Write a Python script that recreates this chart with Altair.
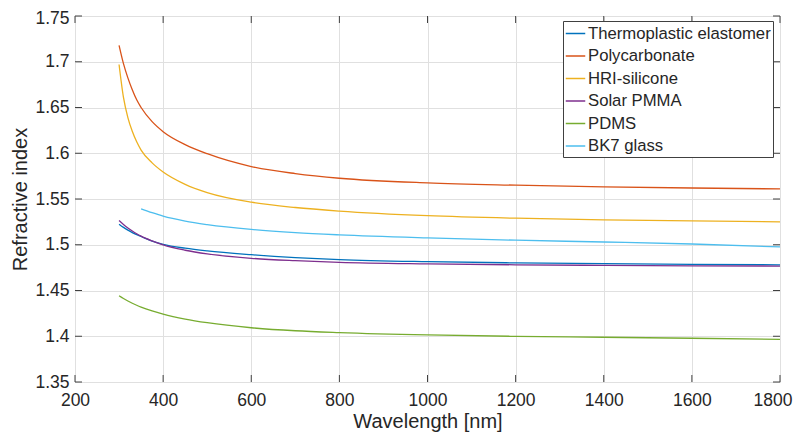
import altair as alt
import pandas as pd

names = ["Thermoplastic elastomer", "Polycarbonate", "HRI-silicone", "Solar PMMA", "PDMS", "BK7 glass"]
colors = ["#0072BD", "#D95319", "#EDB120", "#7E2F8E", "#77AC30", "#4DBEEE"]

wl = [300, 310, 320, 330, 340, 350, 375, 400, 450, 500, 600, 700, 800, 1000, 1200, 1400, 1600, 1800]
wl_bk7 = [350, 375, 400, 450, 500, 600, 700, 800, 1000, 1200, 1400, 1600, 1800]

n_tpe = [1.5225, 1.5190, 1.5160, 1.5133, 1.5110, 1.5090, 1.5040, 1.5005, 1.4962, 1.4932, 1.4891, 1.4860, 1.4838, 1.4815, 1.4802, 1.4793, 1.4786, 1.4781]
n_pc = [1.7180, 1.6980, 1.6824, 1.6694, 1.6584, 1.6500, 1.6345, 1.6236, 1.6095, 1.5995, 1.5855, 1.5778, 1.5727, 1.5676, 1.5651, 1.5633, 1.5620, 1.5610]
n_hri = [1.6970, 1.6610, 1.6390, 1.6240, 1.6125, 1.6035, 1.5895, 1.5795, 1.5660, 1.5570, 1.5465, 1.5407, 1.5368, 1.5318, 1.5290, 1.5272, 1.5260, 1.5251]
n_pmma = [1.5265, 1.5222, 1.5184, 1.5150, 1.5120, 1.5094, 1.5042, 1.4998, 1.4940, 1.4900, 1.4852, 1.4826, 1.4808, 1.4791, 1.4781, 1.4775, 1.4770, 1.4767]
n_pdms = [1.4442, 1.4412, 1.4385, 1.4361, 1.4339, 1.4319, 1.4277, 1.4242, 1.4188, 1.4148, 1.4093, 1.4060, 1.4040, 1.4014, 1.3999, 1.3989, 1.3978, 1.3966]
n_bk7 = [1.5392, 1.5350, 1.5312, 1.5258, 1.5220, 1.5167, 1.5132, 1.5108, 1.5075, 1.5050, 1.5030, 1.5008, 1.4977]

x_ticks = [200, 400, 600, 800, 1000, 1200, 1400, 1600, 1800]
y_ticks = [1.35, 1.4, 1.45, 1.5, 1.55, 1.6, 1.65, 1.7, 1.75]

rows = []
for name, xs, ys in [
    (names[0], wl, n_tpe), (names[1], wl, n_pc), (names[2], wl, n_hri),
    (names[3], wl, n_pmma), (names[4], wl, n_pdms), (names[5], wl_bk7, n_bk7)]:
    for i, (a, b) in enumerate(zip(xs, ys)):
        rows.append({"series": name, "wavelength": a, "n": b, "order": i})
df = pd.DataFrame(rows)

W, H = 705, 366
FONT = "Liberation Sans"
TXT = "#262626"
AX = "#404040"

xscale = alt.Scale(domain=[200, 1800], nice=False, zero=False)
yscale = alt.Scale(domain=[1.35, 1.75], nice=False, zero=False)

lines = alt.Chart(df).mark_line(strokeWidth=1.3, interpolate="monotone").encode(
    x=alt.X("wavelength:Q", scale=xscale,
            axis=alt.Axis(values=x_ticks, title="Wavelength [nm]", tickSize=0, domain=False,
                          grid=True, gridColor="#e0e0e0", labelFontSize=17.5, labelColor=TXT,
                          labelFont=FONT, labelPadding=9, format="d", titleFont=FONT,
                          titleFontSize=20, titleFontWeight="normal", titleColor=TXT,
                          titlePadding=3, labelFlush=False,
                          labelAlign={"expr": "datum.value >= 1800 ? 'right' : 'center'"},
                          labelOffset={"expr": "datum.value >= 1800 ? 12 : 0"})),
    y=alt.Y("n:Q", scale=yscale,
            axis=alt.Axis(values=y_ticks, title="Refractive index", tickSize=0, domain=False,
                          grid=True, gridColor="#e0e0e0", labelFontSize=17.5, labelColor=TXT,
                          labelFont=FONT, labelPadding=6, format="~g", titleFont=FONT,
                          titleFontSize=20, titleFontWeight="normal", titleColor=TXT,
                          titlePadding=4, labelFlush=False,
                          labelOffset={"expr": "datum.value >= 1.75 ? 2 : 0"})),
    color=alt.Color("series:N", scale=alt.Scale(domain=names, range=colors),
                    legend=alt.Legend(title=None, orient="none", legendX=488, legendY=5,
                                      symbolType="stroke", symbolSize=380, symbolStrokeWidth=1.5,
                                      labelFont=FONT, labelFontSize=16.7, labelColor=TXT,
                                      labelOffset=2, rowPadding=2.5, padding=2,
                                      fillColor="white", strokeColor=AX, labelLimit=400)),
    order="order:Q",
)

xt = pd.DataFrame({"t": x_ticks})
yt = pd.DataFrame({"t": y_ticks})
TL = 7
bottom = alt.Chart(xt).mark_rule(color=AX, strokeWidth=1).encode(
    x=alt.X("t:Q", scale=xscale), y=alt.value(H), y2=alt.value(H - TL))
top = alt.Chart(xt).mark_rule(color=AX, strokeWidth=1).encode(
    x=alt.X("t:Q", scale=xscale), y=alt.value(0), y2=alt.value(TL))
left = alt.Chart(yt).mark_rule(color=AX, strokeWidth=1).encode(
    y=alt.Y("t:Q", scale=yscale), x=alt.value(0), x2=alt.value(TL))
right = alt.Chart(yt).mark_rule(color=AX, strokeWidth=1).encode(
    y=alt.Y("t:Q", scale=yscale), x=alt.value(W), x2=alt.value(W - TL))

chart = alt.layer(lines, bottom, top, left, right).properties(
    width=W, height=H,
    autosize=alt.AutoSizeParams(type="none"),
    padding={"left": 67, "top": 8, "right": 13, "bottom": 50},
).configure_view(stroke=AX, strokeWidth=1).configure(background="white")

chart.save("out.html", embed_options={"renderer": "svg", "actions": False})
